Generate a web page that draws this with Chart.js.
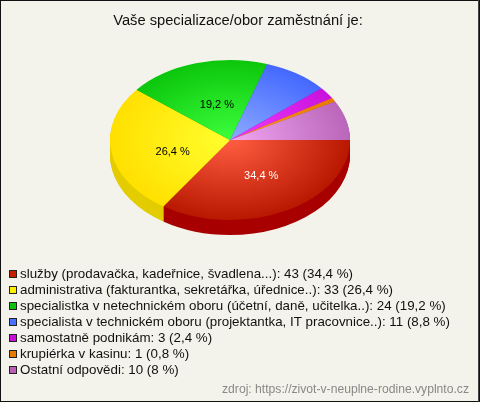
<!DOCTYPE html>
<html>
<head>
<meta charset="utf-8">
<script src="https://cdn.jsdelivr.net/npm/chart.js@4"></script>
<style>
  html, body { margin: 0; padding: 0; background: #f4f3eb; }
  canvas { display: block; }
</style>
</head>
<body>
<canvas id="myChart" width="480" height="402"></canvas>
<script>
const titleText = "Vaše specializace/obor zaměstnání je:";
const sourceText = "zdroj: https://zivot-v-neuplne-rodine.vyplnto.cz";
const categories = [
  "služby (prodavačka, kadeřnice, švadlena...)",
  "administrativa (fakturantka, sekretářka, úřednice..)",
  "specialistka v netechnickém oboru (účetní, daně, učitelka..)",
  "specialista v technickém oboru (projektantka, IT pracovnice..)",
  "samostatně podnikám",
  "krupiérka v kasinu",
  "Ostatní odpovědi"
];
const counts = [43, 33, 24, 11, 3, 1, 10];
const percents = ["34,4", "26,4", "19,2", "8,8", "2,4", "0,8", "8"];

const innerColors = ["#ff5e42", "#ffff2e", "#3cff3c", "#8cabff", "#f03cff", "#ff9a1a", "#f2a6f2"];
const outerColors = ["#b81800", "#ffe000", "#0cc60c", "#4468ff", "#c912dc", "#e87a00", "#ba66ba"];
const legendColors = ["#c81e00", "#ffee00", "#10c010", "#4a70ff", "#c810d8", "#e87a00", "#b860b8"];
const sideColors = ["#a80000", "#e3cc00", "#0a9a0a", "#3350c0", "#9a0ea8", "#b05c00", "#8c4c8c"];
const labelColors = ["#ffffff", "#000000", "#000000"];
const labelNudges = [[3, 1], [2, 6], [4, 3]];

// the pie is a flattened disc, so it gets squeezed around this centre
const pie = { x: 230, y: 140, rx: 120, ry: 80, depth: 15 };

function sliceFill(c) {
  const area = c.chart.chartArea;
  if (!area) return outerColors[c.dataIndex];
  const x = (area.left + area.right) / 2;
  const y = (area.top + area.bottom) / 2;
  const r = Math.min(area.width, area.height) / 2;
  const g = c.chart.ctx.createRadialGradient(x, y, 0, x, y, r);
  g.addColorStop(0, innerColors[c.dataIndex]);
  g.addColorStop(1, outerColors[c.dataIndex]);
  return g;
}

const flatPie = {
  id: "flatPie",
  beforeDraw(chart) {
    const ctx = chart.ctx;
    ctx.save();
    ctx.fillStyle = "#f4f3eb";
    ctx.fillRect(0, 0, 480, 402);
    ctx.strokeStyle = "#111111";
    ctx.strokeRect(0.5, 0.5, 479, 401);
    ctx.strokeStyle = "#444444";
    ctx.beginPath();
    ctx.moveTo(478.5, 0);
    ctx.lineTo(478.5, 402);
    ctx.stroke();
    ctx.restore();
  },
  beforeDatasetsDraw(chart) {
    const ctx = chart.ctx;
    const arcs = chart.getDatasetMeta(0).data;
    const r = arcs[0].outerRadius;
    ctx.save();
    // side wall first, stacked from the bottom up
    for (let d = pie.depth; d > 0; d--) {
      arcs.forEach((el, i) => {
        ctx.save();
        ctx.translate(pie.x, pie.y + d);
        ctx.scale(pie.rx / r, pie.ry / r);
        ctx.fillStyle = sideColors[i];
        ctx.beginPath();
        ctx.moveTo(0, 0);
        ctx.arc(0, 0, r, el.startAngle, el.endAngle);
        ctx.closePath();
        ctx.fill();
        ctx.restore();
      });
    }
    ctx.translate(pie.x, pie.y);
    ctx.scale(pie.rx / r, pie.ry / r);
    ctx.translate(-arcs[0].x, -arcs[0].y);
  },
  afterDatasetsDraw(chart) {
    const ctx = chart.ctx;
    ctx.restore();
    const arcs = chart.getDatasetMeta(0).data;
    ctx.save();
    ctx.textAlign = "center";
    ctx.textBaseline = "middle";
    ctx.font = "11px 'Liberation Sans', Arial, sans-serif";
    arcs.forEach((el, i) => {
      if (counts[i] / 125 < 0.1) return; // small slices have no label
      const mid = (el.startAngle + el.endAngle) / 2;
      ctx.fillStyle = labelColors[i];
      ctx.fillText(percents[i] + " %",
        pie.x + Math.cos(mid) * pie.rx * 0.5 + labelNudges[i][0],
        pie.y + Math.sin(mid) * pie.ry * 0.5 + labelNudges[i][1]);
    });
    ctx.restore();
  },
  afterDraw(chart) {
    const ctx = chart.ctx;
    ctx.save();
    ctx.font = "13.35px 'Liberation Sans', Arial, sans-serif";
    ctx.textBaseline = "middle";
    categories.forEach((name, i) => {
      const y = 274 + i * 16;
      ctx.fillStyle = legendColors[i];
      ctx.fillRect(10, y - 3, 6, 6);
      ctx.strokeStyle = "#222222";
      ctx.strokeRect(9.5, y - 3.5, 7, 7);
      ctx.fillStyle = "#111111";
      ctx.fillText(name + ": " + counts[i] + " (" + percents[i] + " %)", 20, y);
    });
    ctx.font = "12.15px 'Liberation Sans', Arial, sans-serif";
    ctx.fillStyle = "#888888";
    ctx.textAlign = "right";
    ctx.fillText(sourceText, 469, 390);
    ctx.restore();
  }
};

new Chart(document.getElementById("myChart"), {
  type: "pie",
  data: {
    labels: categories,
    datasets: [{
      data: counts,
      backgroundColor: sliceFill,
      borderWidth: 0,
      clip: false
    }]
  },
  options: {
    responsive: false,
    animation: false,
    rotation: 90,
    layout: { padding: { right: 4 } },
    plugins: {
      legend: { display: false },
      tooltip: { enabled: false },
      title: {
        display: true,
        text: titleText,
        color: "#111111",
        font: { family: "'Liberation Sans', Arial, sans-serif", size: 14.7, weight: "normal" },
        padding: { top: 12, bottom: 8 }
      }
    }
  },
  plugins: [flatPie]
});
</script>
</body>
</html>
